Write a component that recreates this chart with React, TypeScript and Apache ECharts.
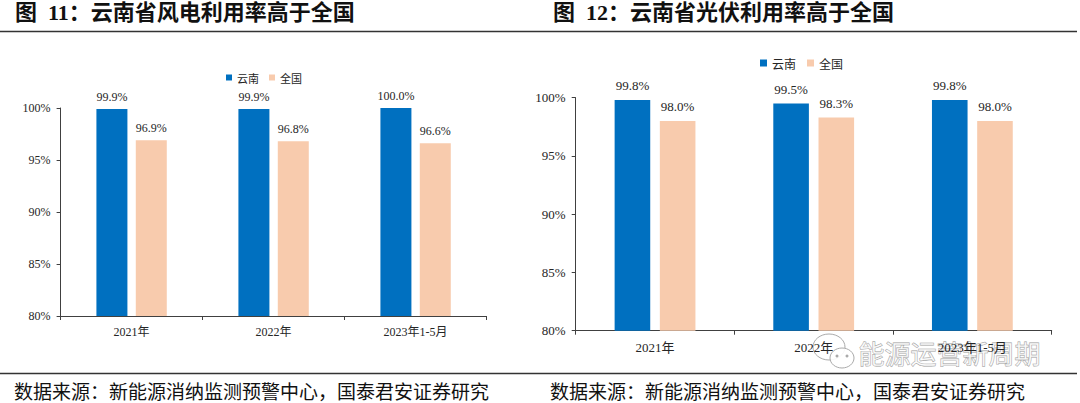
import React, { useEffect, useRef } from "react";
import * as echarts from "echarts";

const categories = ["2021年", "2022年", "2023年1-5月"];
const windYunnan = [99.9, 99.9, 100.0];
const windNational = [96.9, 96.8, 96.6];
const solarYunnan = [99.8, 99.5, 99.8];
const solarNational = [98.0, 98.3, 98.0];
const seriesNames = ["云南", "全国"];
const yMin = 80;
const yMax = 100;
const yStep = 5;

const titleLeft = "图  11：云南省风电利用率高于全国";
const titleRight = "图  12：云南省光伏利用率高于全国";
const sourceText = "数据来源：新能源消纳监测预警中心，国泰君安证券研究";
const watermark = "能源运营新周期";

const BLUE = "#0070C0";
const PEACH = "#F8CBAD";
const AXIS = "#404040";
const TEXT = "#262626";
const SERIF = "'Liberation Serif', 'Noto Sans CJK SC', serif";
const CJK = "'Noto Sans CJK SC', sans-serif";

function makeAxes(gridIndex: number, fs: number) {
  return {
    x: {
      type: "category",
      gridIndex,
      data: categories,
      axisLine: { show: true, lineStyle: { color: AXIS, width: 1 } },
      axisTick: { show: true, length: 4, lineStyle: { color: AXIS } },
      axisLabel: { color: TEXT, fontSize: fs, fontFamily: SERIF, margin: 10 },
      splitLine: { show: false },
    },
    y: {
      type: "value",
      gridIndex,
      min: yMin,
      max: yMax,
      interval: yStep,
      axisLine: { show: true, lineStyle: { color: AXIS, width: 1 } },
      axisTick: { show: true, length: 4, lineStyle: { color: AXIS } },
      axisLabel: {
        color: TEXT,
        fontSize: fs,
        fontFamily: SERIF,
        margin: 10,
        formatter: (v: number) => v + "%",
      },
      splitLine: { show: false },
    },
  };
}

function makeBar(
  name: string,
  data: number[],
  color: string,
  idx: number,
  width: number,
  fs: number,
  dist: number
) {
  return {
    type: "bar",
    name,
    data,
    xAxisIndex: idx,
    yAxisIndex: idx,
    barWidth: width,
    barGap: "27%",
    itemStyle: { color },
    label: {
      show: true,
      position: "top",
      distance: dist,
      color: TEXT,
      fontSize: fs,
      fontFamily: SERIF,
      formatter: (p: any) => Number(p.value).toFixed(1) + "%",
    },
  };
}

export default function App() {
  const ref = useRef<HTMLDivElement>(null);
  useEffect(() => {
    document.body.style.margin = "0";
    if (!ref.current) return;
    const chart = echarts.init(ref.current, undefined, { renderer: "svg" });
    const a0 = makeAxes(0, 12);
    const a1 = makeAxes(1, 13);
    const option: any = {
      animation: false,
      backgroundColor: "#ffffff",
      grid: [
        { left: 60.6, top: 108, width: 426, height: 208 },
        { left: 575.7, top: 97.7, width: 476, height: 233 },
      ],
      legend: [
        {
          left: 221,
          top: 67,
          data: seriesNames,
          icon: "rect",
          itemWidth: 6,
          itemHeight: 6,
          itemGap: 10,
          textStyle: { fontSize: 11, fontFamily: CJK, color: TEXT },
          selectedMode: false,
        },
        {
          left: 755,
          top: 52,
          data: seriesNames,
          icon: "rect",
          itemWidth: 7,
          itemHeight: 7,
          itemGap: 11,
          textStyle: { fontSize: 12, fontFamily: CJK, color: TEXT },
          selectedMode: false,
        },
      ],
      xAxis: [a0.x, a1.x],
      yAxis: [a0.y, a1.y],
      series: [
        makeBar(seriesNames[0], windYunnan, BLUE, 0, 31, 12, 6),
        makeBar(seriesNames[1], windNational, PEACH, 0, 31, 12, 6),
        makeBar(seriesNames[0], solarYunnan, BLUE, 1, 35.6, 13, 8),
        makeBar(seriesNames[1], solarNational, PEACH, 1, 35.6, 13, 8),
      ],
      graphic: [
        {
          type: "text",
          left: 15,
          top: 1,
          style: {
            text: titleLeft,
            fontSize: 22,
            fontWeight: "bold",
            fontFamily: SERIF,
            fill: "#111",
          },
        },
        {
          type: "text",
          left: 553,
          top: 1,
          style: {
            text: titleRight,
            fontSize: 22,
            fontWeight: "bold",
            fontFamily: SERIF,
            fill: "#111",
          },
        },
        {
          type: "line",
          shape: { x1: 0, y1: 31.5, x2: 1077, y2: 31.5 },
          style: { stroke: "#333", lineWidth: 1.5 },
        },
        {
          type: "line",
          shape: { x1: 0, y1: 373.5, x2: 1077, y2: 373.5 },
          style: { stroke: "#333", lineWidth: 1.5 },
        },
        {
          type: "text",
          left: 14,
          top: 381,
          style: { text: sourceText, fontSize: 19, fontFamily: CJK, fill: "#111" },
        },
        {
          type: "text",
          left: 550,
          top: 381,
          style: { text: sourceText, fontSize: 19, fontFamily: CJK, fill: "#111" },
        },
        {
          type: "group",
          z: 100,
          children: [
            {
              type: "ellipse",
              shape: { cx: 829, cy: 347, rx: 16, ry: 13 },
              style: { fill: "rgba(255,255,255,0.85)", stroke: "#aaa", lineWidth: 1 },
            },
            {
              type: "ellipse",
              shape: { cx: 842, cy: 358, rx: 12, ry: 10 },
              style: { fill: "rgba(255,255,255,0.9)", stroke: "#aaa", lineWidth: 1 },
            },
            { type: "circle", shape: { cx: 837, cy: 356, r: 1.5 }, style: { fill: "#aaa" } },
            { type: "circle", shape: { cx: 847, cy: 356, r: 1.5 }, style: { fill: "#aaa" } },
            {
              type: "text",
              left: 858,
              top: 339,
              style: {
                text: watermark,
                fontSize: 26,
                fontFamily: CJK,
                fill: "rgba(255,255,255,0.7)",
                stroke: "#999",
                lineWidth: 0.8,
              },
            },
          ],
        },
      ],
    };
    chart.setOption(option);
    return () => chart.dispose();
  }, []);
  return <div ref={ref} style={{ width: 1080, height: 403 }} />;
}
